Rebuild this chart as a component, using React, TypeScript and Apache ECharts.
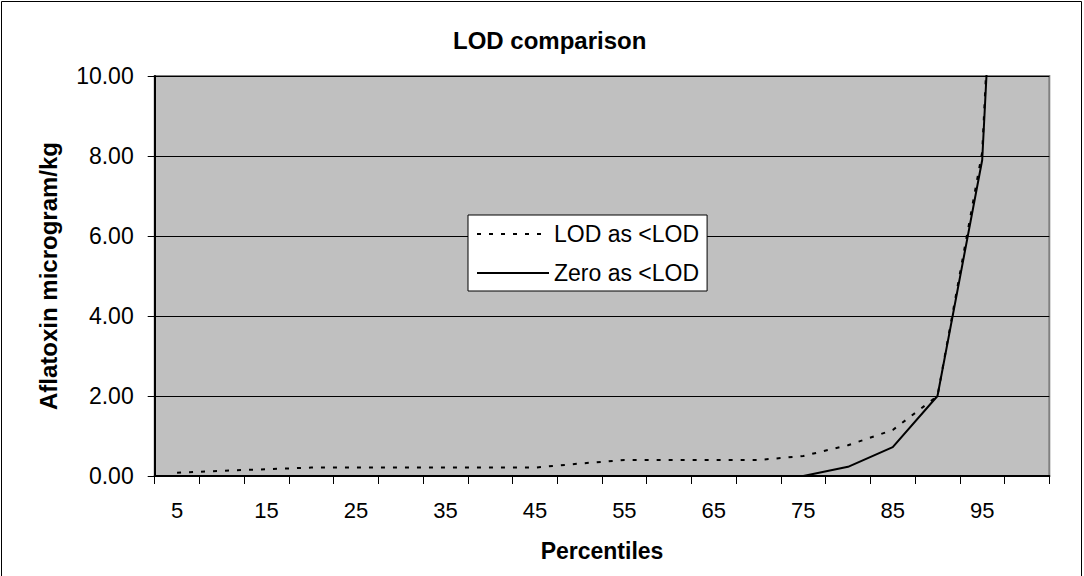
import React, { useEffect, useRef } from "react";
import * as echarts from "echarts";

const categories = ["5", "10", "15", "20", "25", "30", "35", "40", "45", "50", "55", "60", "65", "70", "75", "80", "85", "90", "95", "100"];
const lodAsLod = [0.08, 0.13, 0.17, 0.21, 0.21, 0.21, 0.21, 0.21, 0.21, 0.31, 0.4, 0.4, 0.4, 0.4, 0.5, 0.77, 1.15, 2.0, 8.1, 31];
const zeroAsLod = [0, 0, 0, 0, 0, 0, 0, 0, 0, 0, 0, 0, 0, 0, 0, 0.23, 0.72, 2.0, 7.9, 30];
const seriesNames = ["LOD as <LOD", "Zero as <LOD"];
const yTicks = { min: 0, max: 10, interval: 2 };

const FONT = "'Liberation Sans', Arial, sans-serif";

export default function App() {
  const ref = useRef<HTMLDivElement>(null);
  useEffect(() => {
    if (!ref.current) return;
    const chart = echarts.init(ref.current, null, { renderer: "svg" });
    chart.setOption({
      animation: false,
      backgroundColor: "#ffffff",
      textStyle: { fontFamily: FONT },
      title: {
        text: "LOD comparison",
        left: 453,
        top: 28,
        padding: 0,
        textStyle: { fontFamily: FONT, fontSize: 24, fontWeight: "bold", color: "#000" },
      },
      graphic: [
        {
          type: "rect",
          shape: { x: 1.5, y: 1.5, width: 1080, height: 590 },
          style: { fill: "none", stroke: "#000", lineWidth: 1 },
          silent: true,
          z: 100,
        },
      ],
      legend: {
        orient: "vertical",
        left: 468,
        top: 215,
        padding: [6, 8, 5, 8],
        itemGap: 13,
        itemWidth: 72,
        itemHeight: 14,
        backgroundColor: "#ffffff",
        borderColor: "#000",
        borderWidth: 1,
        borderRadius: 0,
        itemStyle: { opacity: 0 },
        textStyle: { fontFamily: FONT, fontSize: 23, color: "#000", lineHeight: 26 },
        data: seriesNames,
      },
      grid: {
        left: 154.7,
        right: 34.7,
        top: 76,
        bottom: 100,
        show: true,
        backgroundColor: "#C0C0C0",
        borderColor: "#808080",
        borderWidth: 2,
      },
      xAxis: {
        type: "category",
        data: categories,
        boundaryGap: true,
        name: "Percentiles",
        nameLocation: "middle",
        nameGap: 63,
        nameTextStyle: { fontFamily: FONT, fontSize: 23, fontWeight: "bold", color: "#000" },
        axisLine: { show: true, lineStyle: { color: "#000", width: 2 } },
        axisTick: { show: true, interval: 0, length: 8, inside: false, alignWithLabel: false, lineStyle: { color: "#000", width: 1 } },
        axisLabel: { interval: 1, margin: 23, fontFamily: FONT, fontSize: 22, color: "#000" },
        splitLine: { show: false },
      },
      yAxis: {
        type: "value",
        min: yTicks.min,
        max: yTicks.max,
        interval: yTicks.interval,
        name: "Aflatoxin microgram/kg",
        nameLocation: "middle",
        nameGap: 94,
        nameTextStyle: { fontFamily: FONT, fontSize: 24, fontWeight: "bold", color: "#000" },
        axisLine: { show: true, lineStyle: { color: "#000", width: 2 } },
        axisTick: { show: true, length: 7, inside: false, lineStyle: { color: "#000", width: 1 } },
        axisLabel: {
          margin: 21,
          fontFamily: FONT,
          fontSize: 23,
          color: "#000",
          formatter: (v: number) => v.toFixed(2),
        },
        splitLine: { show: true, lineStyle: { color: "#000", width: 1 } },
      },
      series: [
        {
          name: seriesNames[0],
          type: "line",
          data: lodAsLod,
          symbol: "none",
          clip: true,
          lineStyle: { color: "#000", width: 2, type: [4, 8] },
          itemStyle: { color: "#000" },
          z: 3,
        },
        {
          name: seriesNames[1],
          type: "line",
          data: zeroAsLod,
          symbol: "none",
          clip: true,
          lineStyle: { color: "#000", width: 2, type: "solid" },
          itemStyle: { color: "#000" },
          z: 2,
        },
      ],
    });
    return () => chart.dispose();
  }, []);
  return (
    <div
      ref={ref}
      style={{ position: "fixed", left: 0, top: 0, width: 1084, height: 576 }}
    />
  );
}
